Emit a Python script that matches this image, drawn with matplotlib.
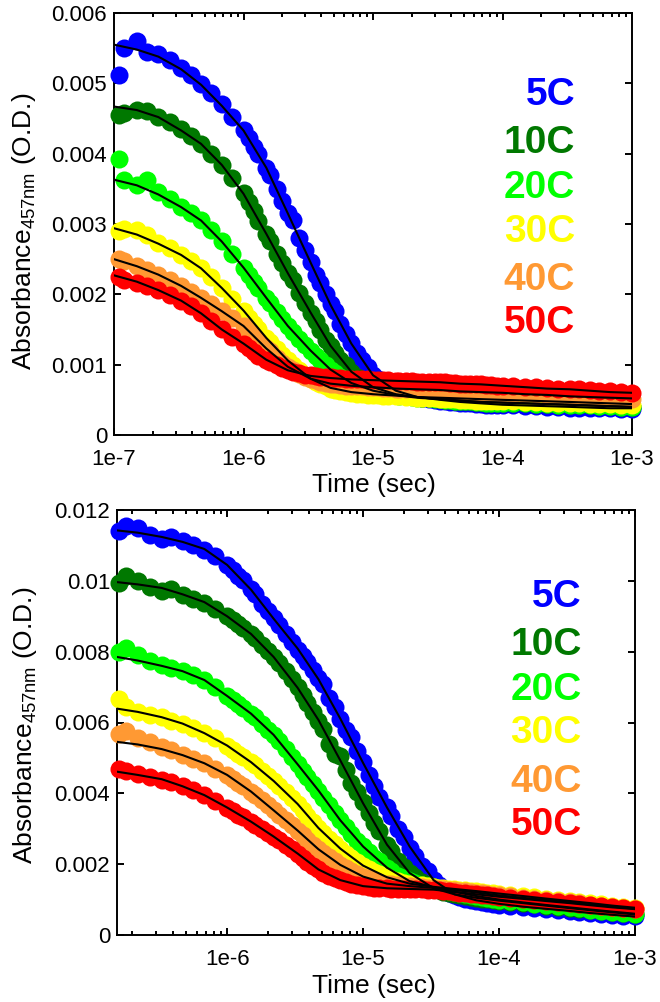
import numpy as np
import matplotlib
matplotlib.use('Agg')
import matplotlib.pyplot as plt
from matplotlib.ticker import FuncFormatter, LogLocator, NullFormatter

plt.rcParams['font.family'] = ['Liberation Sans', 'DejaVu Sans']
plt.rcParams['mathtext.default'] = 'regular'

labels = ['5C', '10C', '20C', '30C', '40C', '50C']
colors = ['#0000FF', '#007800', '#00FF00', '#FFFF00', '#FF9933', '#FF0000']

# ---- top panel: measured points (absorbance in mOD) ----
t_top = [1.1e-7, 1.2e-7, 1.5e-7, 1.8e-7, 2.2e-7, 2.7e-7, 3.3e-7, 3.9e-7, 4.7e-7, 5.6e-7, 6.8e-7, 8.2e-7,
         1.0e-6, 1.1e-6, 1.2e-6, 1.3e-6, 1.5e-6, 1.6e-6, 1.8e-6, 2.0e-6, 2.2e-6, 2.4e-6, 2.7e-6, 3.0e-6,
         3.3e-6, 3.6e-6, 3.9e-6, 4.3e-6, 4.7e-6, 5.1e-6, 5.6e-6, 6.2e-6, 6.8e-6, 7.5e-6, 8.2e-6, 9.1e-6,
         1.0e-5, 1.1e-5, 1.2e-5, 1.3e-5, 1.5e-5, 1.6e-5, 1.8e-5, 2.0e-5, 2.2e-5, 2.4e-5, 2.7e-5, 3.0e-5,
         3.3e-5, 3.6e-5, 3.9e-5, 4.3e-5, 4.7e-5, 5.1e-5, 5.6e-5, 6.2e-5, 6.8e-5, 7.5e-5, 8.2e-5, 9.1e-5,
         1.0e-4, 1.2e-4, 1.5e-4, 1.8e-4, 2.2e-4, 2.7e-4, 3.3e-4, 3.9e-4, 4.7e-4, 5.6e-4, 6.8e-4, 8.2e-4,
         1.0e-3]
top_5C = [5.12, 5.50, 5.60, 5.45, 5.42, 5.33, 5.22, 5.12, 4.99, 4.86, 4.70, 4.52,
          4.33, 4.22, 4.10, 3.99, 3.80, 3.69, 3.50, 3.33, 3.16, 3.05, 2.80, 2.63,
          2.46, 2.27, 2.16, 2.00, 1.86, 1.76, 1.58, 1.44, 1.31, 1.16, 1.07, 0.96,
          0.86, 0.79, 0.73, 0.68, 0.63, 0.61, 0.58, 0.56, 0.54, 0.52, 0.51, 0.50,
          0.49, 0.48, 0.47, 0.47, 0.46, 0.45, 0.45, 0.44, 0.44, 0.43, 0.43, 0.42,
          0.42, 0.42, 0.41, 0.41, 0.40, 0.40, 0.39, 0.39, 0.38, 0.38, 0.38, 0.37,
          0.37]
top_10C = [4.55, 4.58, 4.62, 4.60, 4.52, 4.45, 4.35, 4.25, 4.14, 4.00, 3.84, 3.65,
           3.44, 3.31, 3.18, 3.04, 2.86, 2.76, 2.58, 2.44, 2.30, 2.20, 2.02, 1.88,
           1.74, 1.62, 1.50, 1.35, 1.27, 1.17, 1.07, 1.00, 0.90, 0.83, 0.77, 0.72,
           0.68, 0.65, 0.62, 0.60, 0.58, 0.57, 0.56, 0.55, 0.54, 0.53, 0.52, 0.52,
           0.51, 0.50, 0.50, 0.49, 0.49, 0.48, 0.48, 0.47, 0.47, 0.46, 0.46, 0.46,
           0.46, 0.45, 0.45, 0.44, 0.44, 0.43, 0.43, 0.42, 0.42, 0.41, 0.41, 0.40,
           0.40]
top_20C = [3.92, 3.62, 3.55, 3.62, 3.45, 3.35, 3.24, 3.15, 3.05, 2.92, 2.76, 2.58,
           2.38, 2.27, 2.17, 2.09, 1.95, 1.88, 1.75, 1.65, 1.55, 1.47, 1.37, 1.28,
           1.20, 1.13, 1.06, 0.99, 0.93, 0.88, 0.83, 0.78, 0.74, 0.71, 0.68, 0.65,
           0.63, 0.61, 0.60, 0.58, 0.57, 0.56, 0.55, 0.54, 0.53, 0.52, 0.52, 0.51,
           0.51, 0.50, 0.50, 0.49, 0.49, 0.48, 0.48, 0.47, 0.47, 0.46, 0.46, 0.46,
           0.46, 0.45, 0.45, 0.44, 0.44, 0.43, 0.43, 0.42, 0.42, 0.41, 0.41, 0.40,
           0.40]
top_30C = [2.90, 2.93, 2.92, 2.84, 2.73, 2.66, 2.56, 2.47, 2.37, 2.24, 2.09, 1.93,
           1.77, 1.67, 1.58, 1.51, 1.38, 1.32, 1.22, 1.14, 1.06, 0.99, 0.92, 0.86,
           0.80, 0.76, 0.72, 0.69, 0.66, 0.64, 0.62, 0.61, 0.60, 0.59, 0.58, 0.57,
           0.57, 0.57, 0.56, 0.56, 0.55, 0.55, 0.54, 0.54, 0.53, 0.53, 0.52, 0.52,
           0.51, 0.51, 0.51, 0.51, 0.50, 0.50, 0.50, 0.49, 0.49, 0.49, 0.49, 0.48,
           0.48, 0.48, 0.47, 0.47, 0.46, 0.46, 0.45, 0.45, 0.44, 0.44, 0.44, 0.43,
           0.43]
top_40C = [2.50, 2.47, 2.40, 2.34, 2.28, 2.20, 2.12, 2.04, 1.95, 1.86, 1.76, 1.66,
           1.55, 1.47, 1.40, 1.34, 1.24, 1.19, 1.10, 1.03, 0.97, 0.92, 0.87, 0.83,
           0.80, 0.78, 0.76, 0.74, 0.73, 0.72, 0.71, 0.70, 0.70, 0.69, 0.69, 0.68,
           0.68, 0.68, 0.67, 0.67, 0.66, 0.66, 0.65, 0.65, 0.65, 0.64, 0.64, 0.64,
           0.64, 0.63, 0.63, 0.62, 0.62, 0.62, 0.62, 0.61, 0.61, 0.61, 0.61, 0.60,
           0.60, 0.59, 0.58, 0.58, 0.57, 0.56, 0.55, 0.55, 0.54, 0.53, 0.53, 0.52,
           0.51]
top_50C = [2.25, 2.20, 2.16, 2.12, 2.06, 1.99, 1.91, 1.83, 1.73, 1.62, 1.51, 1.40,
           1.30, 1.24, 1.18, 1.13, 1.07, 1.04, 0.99, 0.95, 0.92, 0.90, 0.88, 0.86,
           0.85, 0.84, 0.83, 0.82, 0.82, 0.81, 0.81, 0.80, 0.80, 0.79, 0.79, 0.79,
           0.78, 0.78, 0.78, 0.78, 0.77, 0.77, 0.77, 0.77, 0.76, 0.76, 0.76, 0.75,
           0.75, 0.75, 0.74, 0.74, 0.73, 0.73, 0.73, 0.72, 0.72, 0.71, 0.71, 0.70,
           0.70, 0.69, 0.68, 0.68, 0.67, 0.66, 0.65, 0.65, 0.64, 0.63, 0.62, 0.61,
           0.60]

# ---- top panel: fitted curves (mOD) ----
tf_top = [1.0e-7, 1.5e-7, 2.2e-7, 3.3e-7, 4.7e-7, 6.8e-7,
          1.0e-6, 1.5e-6, 2.2e-6, 3.3e-6, 4.7e-6, 6.8e-6,
          1.0e-5, 1.5e-5, 2.2e-5, 3.3e-5, 4.7e-5, 6.8e-5,
          1.0e-4, 1.5e-4, 2.2e-4, 3.3e-4, 4.7e-4, 6.8e-4, 1.0e-3]
fit_top_5C = [5.55, 5.48, 5.38, 5.20, 4.98, 4.68, 4.33, 3.80, 3.15, 2.45, 1.85, 1.30,
              0.85, 0.63, 0.54, 0.50, 0.47, 0.45, 0.43, 0.42, 0.41, 0.40, 0.39, 0.38, 0.38]
fit_top_10C = [4.67, 4.62, 4.52, 4.33, 4.14, 3.84, 3.43, 2.86, 2.30, 1.74, 1.27, 0.90,
               0.68, 0.58, 0.54, 0.51, 0.49, 0.47, 0.46, 0.45, 0.44, 0.43, 0.42, 0.41, 0.40]
fit_top_20C = [3.63, 3.55, 3.42, 3.24, 3.05, 2.75, 2.38, 1.95, 1.55, 1.20, 0.93, 0.74,
               0.63, 0.57, 0.53, 0.51, 0.49, 0.47, 0.46, 0.45, 0.44, 0.43, 0.42, 0.41, 0.40]
fit_top_30C = [2.94, 2.85, 2.72, 2.56, 2.37, 2.09, 1.77, 1.38, 1.06, 0.80, 0.67, 0.61,
               0.58, 0.56, 0.54, 0.53, 0.52, 0.51, 0.50, 0.49, 0.48, 0.47, 0.46, 0.45, 0.44]
fit_top_40C = [2.50, 2.40, 2.28, 2.12, 1.95, 1.76, 1.55, 1.23, 0.97, 0.80, 0.73, 0.70,
               0.68, 0.66, 0.65, 0.64, 0.62, 0.61, 0.60, 0.58, 0.57, 0.55, 0.54, 0.53, 0.52]
fit_top_50C = [2.27, 2.18, 2.06, 1.91, 1.73, 1.50, 1.30, 1.07, 0.92, 0.84, 0.81, 0.79,
               0.78, 0.77, 0.76, 0.75, 0.73, 0.72, 0.70, 0.68, 0.66, 0.65, 0.63, 0.61, 0.60]

# ---- bottom panel: measured points (mOD) ----
t_bot = [1.6e-7, 1.8e-7, 2.2e-7, 2.7e-7, 3.3e-7, 3.9e-7, 4.7e-7, 5.6e-7, 6.8e-7, 8.2e-7,
         1.0e-6, 1.1e-6, 1.2e-6, 1.3e-6, 1.5e-6, 1.6e-6, 1.8e-6, 2.0e-6, 2.2e-6, 2.4e-6, 2.7e-6, 3.0e-6,
         3.3e-6, 3.6e-6, 3.9e-6, 4.3e-6, 4.7e-6, 5.1e-6, 5.6e-6, 6.2e-6, 6.8e-6, 7.5e-6, 8.2e-6, 9.1e-6,
         1.0e-5, 1.1e-5, 1.2e-5, 1.3e-5, 1.5e-5, 1.6e-5, 1.8e-5, 2.0e-5, 2.2e-5, 2.4e-5, 2.7e-5, 3.0e-5,
         3.3e-5, 3.6e-5, 3.9e-5, 4.3e-5, 4.7e-5, 5.1e-5, 5.6e-5, 6.2e-5, 6.8e-5, 7.5e-5, 8.2e-5, 9.1e-5,
         1.0e-4, 1.2e-4, 1.5e-4, 1.8e-4, 2.2e-4, 2.7e-4, 3.3e-4, 3.9e-4, 4.7e-4, 5.6e-4, 6.8e-4, 8.2e-4,
         1.0e-3]
bot_5C = [11.40, 11.55, 11.48, 11.30, 11.18, 11.25, 11.12, 11.00, 10.88, 10.70,
          10.45, 10.30, 10.15, 10.02, 9.78, 9.63, 9.35, 9.15, 8.95, 8.76, 8.50, 8.27,
          8.05, 7.88, 7.70, 7.47, 7.25, 7.10, 6.70, 6.45, 6.10, 5.80, 5.60, 5.20,
          4.88, 4.52, 4.20, 3.90, 3.62, 3.36, 3.00, 2.78, 2.45, 2.22, 1.95, 1.80,
          1.55, 1.41, 1.30, 1.20, 1.12, 1.07, 1.02, 0.98, 0.95, 0.92, 0.90, 0.88,
          0.86, 0.83, 0.79, 0.76, 0.73, 0.70, 0.67, 0.65, 0.62, 0.60, 0.57, 0.55,
          0.53]
bot_10C = [9.93, 10.15, 10.00, 9.82, 9.72, 9.78, 9.60, 9.50, 9.38, 9.20,
           9.00, 8.89, 8.78, 8.68, 8.50, 8.39, 8.20, 8.02, 7.85, 7.68, 7.45, 7.22,
           7.00, 6.78, 6.55, 6.30, 6.05, 5.82, 5.40, 5.10, 5.05, 4.67, 4.30, 4.05,
           3.75, 3.45, 3.15, 2.95, 2.55, 2.38, 2.10, 1.92, 1.75, 1.63, 1.50, 1.40,
           1.32, 1.27, 1.22, 1.18, 1.15, 1.12, 1.10, 1.07, 1.05, 1.03, 1.01, 0.99,
           0.97, 0.94, 0.90, 0.87, 0.83, 0.80, 0.76, 0.73, 0.70, 0.67, 0.64, 0.61,
           0.58]
bot_20C = [7.98, 8.10, 7.92, 7.75, 7.62, 7.55, 7.45, 7.35, 7.20, 7.00,
           6.75, 6.63, 6.52, 6.42, 6.25, 6.15, 5.95, 5.80, 5.65, 5.48, 5.25, 5.03,
           4.82, 4.63, 4.45, 4.26, 4.08, 3.88, 3.68, 3.45, 3.25, 3.04, 2.85, 2.66,
           2.50, 2.33, 2.18, 2.08, 1.90, 1.82, 1.68, 1.60, 1.52, 1.47, 1.42, 1.38,
           1.35, 1.31, 1.28, 1.25, 1.22, 1.19, 1.16, 1.13, 1.10, 1.07, 1.05, 1.02,
           1.00, 0.96, 0.92, 0.88, 0.85, 0.81, 0.78, 0.75, 0.72, 0.69, 0.66, 0.63,
           0.60]
bot_30C = [6.65, 6.45, 6.30, 6.22, 6.15, 6.05, 5.97, 5.85, 5.70, 5.55,
           5.35, 5.23, 5.12, 5.03, 4.88, 4.79, 4.62, 4.48, 4.35, 4.22, 4.05, 3.87,
           3.70, 3.53, 3.36, 3.19, 3.02, 2.88, 2.72, 2.57, 2.44, 2.30, 2.18, 2.06,
           1.96, 1.87, 1.78, 1.72, 1.63, 1.59, 1.52, 1.48, 1.45, 1.42, 1.40, 1.38,
           1.36, 1.34, 1.33, 1.31, 1.30, 1.28, 1.27, 1.25, 1.24, 1.22, 1.20, 1.18,
           1.17, 1.14, 1.10, 1.07, 1.03, 1.00, 0.96, 0.93, 0.90, 0.87, 0.83, 0.80,
           0.77]
bot_40C = [5.68, 5.75, 5.55, 5.45, 5.30, 5.22, 5.08, 4.98, 4.85, 4.70,
           4.52, 4.41, 4.30, 4.21, 4.05, 3.96, 3.80, 3.66, 3.52, 3.40, 3.25, 3.10,
           2.95, 2.81, 2.68, 2.55, 2.42, 2.31, 2.20, 2.09, 1.98, 1.89, 1.80, 1.72,
           1.65, 1.60, 1.55, 1.51, 1.45, 1.43, 1.41, 1.39, 1.38, 1.36, 1.35, 1.34,
           1.33, 1.31, 1.30, 1.28, 1.27, 1.25, 1.24, 1.22, 1.20, 1.18, 1.16, 1.14,
           1.12, 1.09, 1.05, 1.02, 0.99, 0.95, 0.92, 0.89, 0.86, 0.83, 0.80, 0.77,
           0.74]
bot_50C = [4.70, 4.62, 4.55, 4.45, 4.38, 4.32, 4.22, 4.10, 3.95, 3.78,
           3.60, 3.50, 3.40, 3.33, 3.20, 3.12, 2.98, 2.88, 2.78, 2.68, 2.55, 2.42,
           2.30, 2.18, 2.07, 1.96, 1.85, 1.76, 1.68, 1.61, 1.55, 1.49, 1.44, 1.40,
           1.38, 1.36, 1.34, 1.33, 1.32, 1.31, 1.30, 1.30, 1.30, 1.29, 1.29, 1.28,
           1.28, 1.26, 1.25, 1.23, 1.22, 1.20, 1.19, 1.17, 1.15, 1.13, 1.12, 1.10,
           1.08, 1.05, 1.02, 0.99, 0.96, 0.93, 0.90, 0.87, 0.84, 0.81, 0.78, 0.75,
           0.73]

# ---- bottom panel: fitted curves (mOD) ----
tf_bot = [1.5e-7, 2.2e-7, 3.3e-7, 4.7e-7, 6.8e-7,
          1.0e-6, 1.5e-6, 2.2e-6, 3.3e-6, 4.7e-6, 6.8e-6,
          1.0e-5, 1.5e-5, 2.2e-5, 3.3e-5, 4.7e-5, 6.8e-5,
          1.0e-4, 1.5e-4, 2.2e-4, 3.3e-4, 4.7e-4, 6.8e-4, 1.0e-3]
fit_bot_5C = [11.43, 11.36, 11.24, 11.10, 10.90, 10.45, 9.75, 8.93, 8.09, 7.22, 6.11,
              4.86, 3.60, 2.50, 1.55, 1.15, 0.98, 0.88, 0.80, 0.74, 0.68, 0.62, 0.57, 0.52]
fit_bot_10C = [9.97, 9.90, 9.80, 9.62, 9.40, 9.00, 8.50, 7.85, 6.98, 6.07, 4.93,
               3.72, 2.55, 1.75, 1.32, 1.15, 1.05, 0.97, 0.90, 0.83, 0.76, 0.70, 0.64, 0.58]
fit_bot_20C = [7.86, 7.75, 7.60, 7.45, 7.20, 6.75, 6.25, 5.65, 4.82, 4.08, 3.24,
               2.50, 1.90, 1.52, 1.35, 1.22, 1.10, 1.00, 0.92, 0.85, 0.78, 0.72, 0.66, 0.60]
fit_bot_30C = [6.40, 6.30, 6.15, 5.97, 5.70, 5.35, 4.88, 4.35, 3.70, 3.02, 2.44,
               1.96, 1.63, 1.45, 1.36, 1.30, 1.24, 1.17, 1.10, 1.03, 0.96, 0.90, 0.83, 0.77]
fit_bot_40C = [5.46, 5.38, 5.25, 5.08, 4.85, 4.52, 4.05, 3.52, 2.95, 2.42, 1.98,
               1.65, 1.45, 1.38, 1.33, 1.27, 1.20, 1.12, 1.05, 0.99, 0.92, 0.86, 0.80, 0.74]
fit_bot_50C = [4.62, 4.52, 4.40, 4.20, 3.95, 3.60, 3.20, 2.78, 2.30, 1.85, 1.55,
               1.38, 1.32, 1.30, 1.28, 1.22, 1.15, 1.08, 1.02, 0.96, 0.90, 0.84, 0.78, 0.73]

top_data = [top_5C, top_10C, top_20C, top_30C, top_40C, top_50C]
top_fits = [fit_top_5C, fit_top_10C, fit_top_20C, fit_top_30C, fit_top_40C, fit_top_50C]
bot_data = [bot_5C, bot_10C, bot_20C, bot_30C, bot_40C, bot_50C]
bot_fits = [fit_bot_5C, fit_bot_10C, fit_bot_20C, fit_bot_30C, fit_bot_40C, fit_bot_50C]

top_yticks = [0, 0.001, 0.002, 0.003, 0.004, 0.005, 0.006]
bot_yticks = [0, 0.002, 0.004, 0.006, 0.008, 0.010, 0.012]

fig = plt.figure(figsize=(6.6, 10.02), dpi=100)
ax1 = fig.add_axes([114/660, 1 - 435/1002, 518/660, 422/1002])
ax2 = fig.add_axes([117/660, 1 - 935/1002, 518/660, 425/1002])


def draw_panel(ax, t, data, tf, fits, xlim, yticks, lab_x, lab_y):
    for vals, c in zip(data, colors):
        ax.plot(t, np.array(vals) * 1e-3, 'o', color=c, ms=13, mew=0,
                clip_on=False, zorder=3)
    for vals in fits:
        ax.plot(tf, np.array(vals) * 1e-3, '-', color='black', lw=1.5, zorder=4)

    ax.set_xscale('log')
    ax.set_xlim(xlim)
    ax.set_ylim(yticks[0], yticks[-1])
    ax.set_yticks(yticks)
    ax.yaxis.set_major_formatter(FuncFormatter(lambda v, p: '%g' % v))
    ax.xaxis.set_major_locator(LogLocator(base=10, numticks=10))
    ax.xaxis.set_minor_locator(LogLocator(base=10, subs=np.arange(2, 10), numticks=20))
    ax.xaxis.set_major_formatter(FuncFormatter(lambda v, p: '1e%d' % round(np.log10(v))))
    ax.xaxis.set_minor_formatter(NullFormatter())
    ax.tick_params(which='both', direction='in', top=True, right=True,
                   labelsize=16, width=1.4)
    ax.tick_params(axis='y', pad=5)
    ax.tick_params(axis='x', pad=10)
    ax.tick_params(which='major', length=5)
    ax.tick_params(which='minor', length=3)
    for s in ax.spines.values():
        s.set_linewidth(1.4)

    for lab, c, y in zip(labels, colors, lab_y):
        ax.text(lab_x, y, lab, transform=ax.transAxes, ha='right', va='baseline',
                color=c, fontsize=28, fontweight='bold')


draw_panel(ax1, t_top, top_data, tf_top, top_fits, (1e-7, 1e-3), top_yticks,
           0.890, [0.782, 0.668, 0.562, 0.457, 0.344, 0.242])
draw_panel(ax2, t_bot, bot_data, tf_bot, bot_fits, (1.55e-7, 1e-3), bot_yticks,
           0.897, [0.772, 0.659, 0.553, 0.452, 0.336, 0.235])

ylab = r'Absorbance$_{457nm}$ (O.D.)'
for ax, ly, lx, xy in [(ax1, 1 - 231/1002, 24/660, 1 - 485/1002),
                       (ax2, 1 - 725/1002, 25/660, 1 - 986/1002)]:
    ax.set_ylabel(ylab, fontsize=19)
    ax.yaxis.set_label_coords(lx, ly, transform=fig.transFigure)
    ax.yaxis.label.set_va('center')
    ax.set_xlabel('Time (sec)', fontsize=19)
    ax.xaxis.set_label_coords(374/660, xy, transform=fig.transFigure)
    ax.xaxis.label.set_va('center')

fig.savefig('out.png', dpi=100)
